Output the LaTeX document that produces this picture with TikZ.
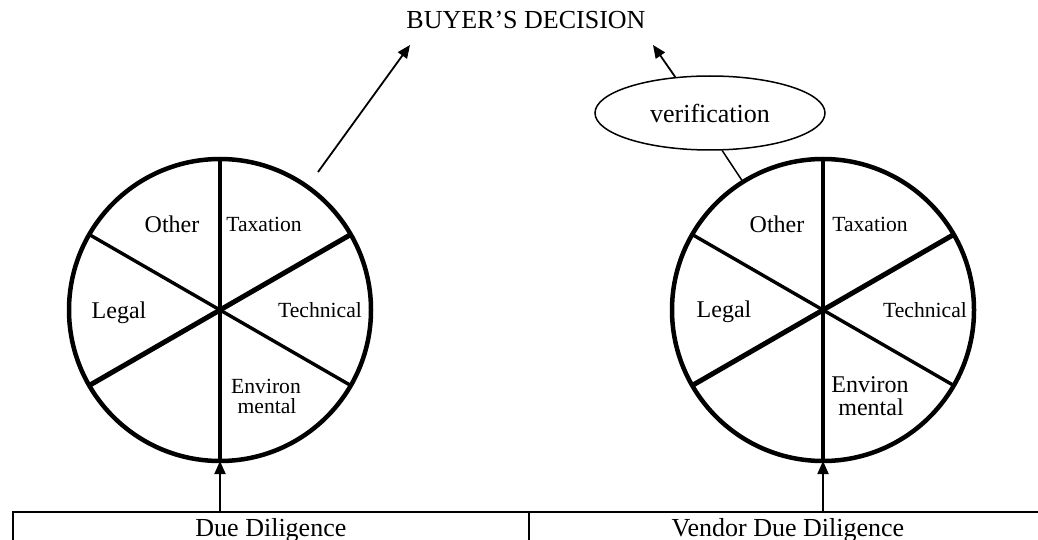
\documentclass[tikz,border=0pt]{standalone}
\usepackage{fontspec}
\setmainfont{Liberation Serif}
\usetikzlibrary{arrows.meta,shapes.geometric}
\begin{document}
\begin{tikzpicture}[x=1pt,y=-1pt,
  wheel/.style={circle,draw,line width=4.5pt,minimum size=302pt,inner sep=0pt,outer sep=0pt},
  spoke/.style={line width=3.4pt},
  thickspoke/.style={line width=5pt},
  big/.style={font=\fontsize{24}{24}\selectfont,anchor=base,inner sep=0pt},
  small/.style={font=\fontsize{21.6}{21.6}\selectfont,anchor=base,inner sep=0pt},
  arr/.style={line width=1.8pt,-{Triangle[length=13pt,width=11pt]}},
  cell/.style={draw,line width=1.8pt,anchor=north west,text height=18pt,text depth=20pt,inner ysep=7pt,font=\fontsize{26}{26}\selectfont}
]
\useasboundingbox (0,0) rectangle (1038,540);

% title
\node[font=\fontsize{26}{26}\selectfont,anchor=base,inner sep=0pt] (title) at (526,29) {BUYER’S DECISION};

% left wheel
\node[wheel] (c1) at (220,310) {};
\draw[spoke] (c1.150) -- (c1.330);
\draw[thickspoke] (c1.30) -- (c1.210);
\draw[spoke] (c1.90) -- (c1.270);
\node[big] (o1) at (172,232) {Other};
\node[small] (t1) at (264,231) {Taxation};
\node[big] (l1) at (119,318) {Legal};
\node[small] (te1) at (320,317) {Technical};
\node[small] (e1a) at (266,393) {Environ};
\node[small] (e1b) at (267,413) {mental};

% right wheel
\node[wheel] (c2) at (823,310) {};
\draw[spoke] (c2.150) -- (c2.330);
\draw[thickspoke] (c2.30) -- (c2.210);
\draw[spoke] (c2.90) -- (c2.270);
\node[big] (o2) at (777,232) {Other};
\node[small] (t2) at (870,231) {Taxation};
\node[big] (l2) at (724,317) {Legal};
\node[small] (te2) at (925,317) {Technical};
\node[big] (e2a) at (870,392) {Environ};
\node[big] (e2b) at (871,415) {mental};

% verification
\node[ellipse,draw,line width=1.5pt,minimum width=230pt,minimum height=74pt,inner sep=0pt,font=\fontsize{26}{26}\selectfont] (ver) at (710,113) {verification};

% table
\node[cell,minimum width=516pt] (dd) at (12,511) {Due Diligence};
\node[cell,minimum width=518pt] (vdd) at (528,511) {Vendor Due Diligence};

% connectors
\coordinate (p1) at (318,172);
\coordinate (q1) at (410,45);
\coordinate (q2) at (653,45);
\draw[arr] (p1) -- (q1);
\draw[arr] (ver.134) -- (q2);
\draw[line width=1.5pt] (ver.288) -- (c2.122);
\draw[arr] (c1.south |- dd.north) -- (c1.south);
\draw[arr] (c2.south |- vdd.north) -- (c2.south);
\end{tikzpicture}
\end{document}
